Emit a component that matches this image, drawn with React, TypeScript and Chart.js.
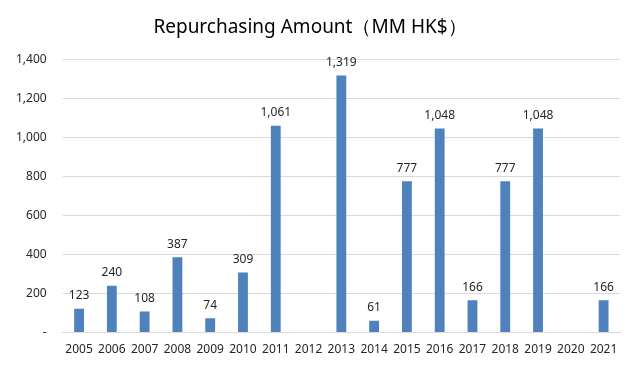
import React, { useEffect, useRef } from "react";
import { Chart, registerables } from "chart.js";

Chart.register(...registerables);

const categories = ["2005","2006","2007","2008","2009","2010","2011","2012","2013","2014","2015","2016","2017","2018","2019","2020","2021"];
const repurchaseValues: (number | null)[] = [123, 240, 108, 387, 74, 309, 1061, null, 1319, 61, 777, 1048, 166, 777, 1048, null, 166];
const yTicks = [0, 200, 400, 600, 800, 1000, 1200, 1400];

const FONT = "'Noto Sans', 'DejaVu Sans', sans-serif";

const labelPlugin = {
  id: "barLabels",
  afterDatasetsDraw(chart: any) {
    const ctx = chart.ctx;
    const meta = chart.getDatasetMeta(0);
    ctx.save();
    ctx.font = `12px ${FONT}`;
    ctx.fillStyle = "#262626";
    ctx.textAlign = "center";
    ctx.textBaseline = "bottom";
    meta.data.forEach((bar: any, i: number) => {
      const v = repurchaseValues[i];
      if (v == null) return;
      ctx.fillText(v.toLocaleString("en-US"), bar.x, bar.y - 7);
    });
    ctx.restore();
  },
};

export default function App() {
  const ref = useRef<HTMLCanvasElement>(null);
  useEffect(() => {
    document.body.style.margin = "0";
    const chart = new Chart(ref.current!, {
      type: "bar",
      data: {
        labels: categories,
        datasets: [
          {
            data: repurchaseValues as any,
            backgroundColor: "#4f81bd",
            categoryPercentage: 1,
            barPercentage: 0.3,
          },
        ],
      },
      options: {
        animation: false,
        responsive: false,
        layout: { padding: { left: 0, right: 14, top: 4, bottom: 6 } },
        plugins: {
          legend: { display: false },
          tooltip: { enabled: false },
          title: {
            display: true,
            text: "Repurchasing Amount（MM HK$）",
            color: "#000",
            font: { family: FONT, size: 19, weight: "normal" },
            padding: { top: 12, bottom: 21 },
          },
        },
        scales: {
          x: {
            grid: { display: false },
            border: { display: true, color: "#d9d9d9" },
            ticks: {
              color: "#262626",
              font: { family: FONT, size: 12 },
              maxRotation: 0,
              autoSkip: false,
              padding: 2,
            },
          },
          y: {
            min: 0,
            max: 1400,
            afterBuildTicks: (axis: any) => {
              axis.ticks = yTicks.map((v) => ({ value: v }));
            },
            grid: { color: "#d9d9d9", drawTicks: false },
            border: { display: false },
            ticks: {
              color: "#262626",
              font: { family: FONT, size: 12 },
              padding: 16,
              callback: (v: any) => (Number(v) === 0 ? "-" : Number(v).toLocaleString("en-US")),
            },
          },
        },
      },
      plugins: [labelPlugin],
    });
    return () => chart.destroy();
  }, []);
  return <canvas ref={ref} width={634} height={365} style={{ display: "block" }} />;
}
